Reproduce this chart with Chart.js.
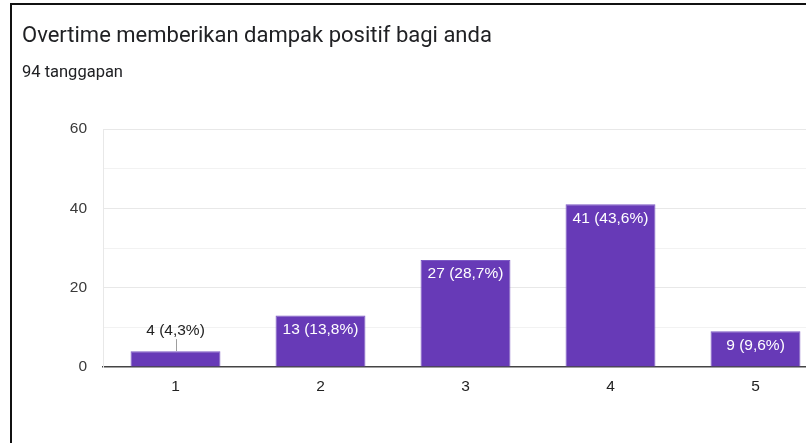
<!DOCTYPE html>
<html>
<head>
<meta charset="utf-8">
<script src="https://cdn.jsdelivr.net/npm/chart.js@4/dist/chart.umd.min.js"></script>
<style>
  html, body { margin: 0; padding: 0; background: #fff; overflow: hidden; width: 806px; height: 443px; }
  #wrap { position: absolute; left: 0; top: 0; width: 840px; height: 443px; }
  #frame { position: absolute; left: 10px; top: 3px; width: 900px; height: 500px;
           border-left: 2px solid #111; border-top: 2px solid #111; pointer-events: none; z-index: 5; }
  .title { position: absolute; left: 22px; top: 23.5px; font-family: Roboto, "Noto Sans", sans-serif;
           font-size: 22px; line-height: 22px; color: #202124; white-space: nowrap; z-index: 3; }
  .sub { position: absolute; left: 22px; top: 64.4px; font-family: Roboto, "Noto Sans", sans-serif;
         font-size: 16.5px; line-height: 16.5px; color: #202124; white-space: nowrap; z-index: 3; }
</style>
</head>
<body>
<div id="wrap"><canvas id="c" width="840" height="443"></canvas></div>
<div id="frame"></div>
<div class="title">Overtime memberikan dampak positif bagi anda</div>
<div class="sub">94 tanggapan</div>
<script>
const categories = ['1', '2', '3', '4', '5'];
const counts = [4, 13, 27, 41, 9];
const percentLabels = ['4,3%', '13,8%', '28,7%', '43,6%', '9,6%'];
const yTickLabels = [0, 20, 40, 60];

const labelFont = '15.5px "Liberation Sans", Arial, sans-serif';

const barLabels = {
  id: 'barLabels',
  afterDatasetsDraw(chart) {
    const ctx = chart.ctx;
    const meta = chart.getDatasetMeta(0);
    ctx.save();
    ctx.font = labelFont;
    ctx.textAlign = 'center';
    ctx.textBaseline = 'middle';
    meta.data.forEach((bar, i) => {
      const text = counts[i] + ' (' + percentLabels[i] + ')';
      const h = bar.base - bar.y;
      const w = ctx.measureText(text).width;
      if (h > 24 && w + 4 < bar.width) {
        ctx.fillStyle = '#ffffff';
        ctx.fillText(text, bar.x, bar.y + 14);
      } else {
        ctx.strokeStyle = '#9e9e9e';
        ctx.lineWidth = 1;
        ctx.beginPath();
        ctx.moveTo(Math.round(bar.x) + 0.5, bar.y - 12);
        ctx.lineTo(Math.round(bar.x) + 0.5, bar.y);
        ctx.stroke();
        ctx.fillStyle = '#222222';
        ctx.fillText(text, bar.x, bar.y - 20.5);
      }
    });
    ctx.restore();
  }
};

new Chart(document.getElementById('c'), {
  type: 'bar',
  data: {
    labels: categories,
    datasets: [{
      data: counts,
      backgroundColor: '#673ab7',
      borderColor: '#7c5ac4',
      borderWidth: 1,
      borderSkipped: 'bottom',
      categoryPercentage: 1,
      barPercentage: 0.62
    }]
  },
  options: {
    responsive: false,
    animation: false,
    events: [],
    layout: { padding: { top: 129, right: 12, bottom: 46, left: 0 } },
    plugins: { legend: { display: false }, tooltip: { enabled: false }, title: { display: false } },
    scales: {
      x: {
        grid: { display: false, drawTicks: false },
        border: { display: true, color: '#444', width: 1.5 },
        ticks: { color: '#222', font: { family: '"Liberation Sans", Arial, sans-serif', size: 15.5 }, padding: 10 },
        afterFit(scale) { scale.height = 30; }
      },
      y: {
        min: 0,
        max: 60,
        ticks: {
          stepSize: 10,
          color: '#3a3a3a',
          padding: 16,
          font: { family: '"Liberation Sans", Arial, sans-serif', size: 15.5 },
          callback: (v) => yTickLabels.includes(v) ? String(v) : ''
        },
        grid: {
          drawTicks: false,
          lineWidth: 1,
          color: (c) => c.tick.value === 0 ? 'rgba(0,0,0,0)' : (c.tick.value % 20 === 0 ? '#e8e8e8' : '#f2f2f2')
        },
        border: { display: true, color: '#e8e8e8', width: 1 },
        afterFit(scale) { scale.width = 103; }
      }
    }
  },
  plugins: [barLabels]
});
</script>
</body>
</html>
